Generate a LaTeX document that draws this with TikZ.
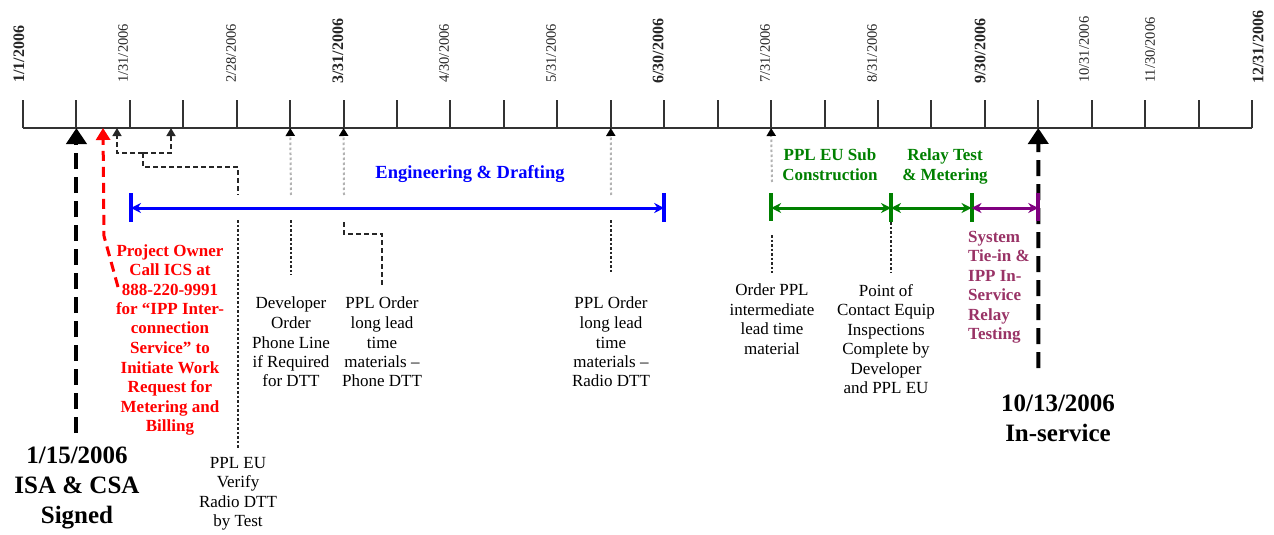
\documentclass[tikz,border=0pt]{standalone}
\usepackage{fontspec}
\setmainfont{Liberation Serif}
\usetikzlibrary{arrows.meta}
\definecolor{axisgray}{RGB}{51,51,51}
\definecolor{ppgreen}{RGB}{0,128,0}
\definecolor{pppurple}{RGB}{128,0,128}
\definecolor{ppplum}{RGB}{153,51,102}
\begin{document}
\begin{tikzpicture}[x=1pt,y=-1pt,
  axisline/.style={draw=axisgray,line width=2pt},
  datelbl/.style={rotate=90,anchor=west,inner sep=0pt,text=black!85,font=\fontsize{14.5}{14.5}\selectfont},
  datebold/.style={datelbl,font=\fontsize{16}{16}\selectfont\bfseries},
  note/.style={align=center,inner sep=0pt,anchor=north,font=\fontsize{17}{19.5}\selectfont},
  boldnote/.style={note,font=\fontsize{17}{19.5}\selectfont\bfseries},
  milestone/.style={align=center,inner sep=0pt,anchor=north,font=\fontsize{25}{30}\selectfont\bfseries},
  bigarr/.style={line width=4pt,dash pattern=on 16pt off 8pt,-{Triangle[width=20pt,length=16pt]}},
  redarr/.style={red,line width=3pt,dash pattern=on 10pt off 6pt,-{Triangle[width=14pt,length=12pt]}},
  gdot/.style={draw=gray!60,line width=2pt,dash pattern=on 2.5pt off 2.5pt,-{Triangle[width=9pt,length=8pt,color=black]}},
  kdot/.style={draw=black!85,line width=2pt,dash pattern=on 2.5pt off 2pt},
  kdash/.style={draw=black!85,line width=1.5pt,dash pattern=on 5pt off 3pt},
  kdasharr/.style={kdash,-{Triangle[width=9pt,length=8pt]}},
  bar/.style={line width=3pt,{Stealth[length=10pt,width=10pt]}-{Stealth[length=10pt,width=10pt]}},
  bartick/.style={line width=4pt}
]
\useasboundingbox (0,0) rectangle (1274,535);

% axis
\draw[axisline] (23,128) -- (1252,128);
\foreach \k in {0,...,23} {
  \coordinate (t\k) at ({23+53.435*\k},128);
  \draw[axisline] ({23+53.435*\k},100) -- (t\k);
}

% date labels
\node[datebold] (d1)  at (19,83)   {1/1/2006};
\node[datelbl]  (d2)  at (123,83)  {1/31/2006};
\node[datelbl]  (d3)  at (231,83)  {2/28/2006};
\node[datebold] (d4)  at (338,84)  {3/31/2006};
\node[datelbl]  (d5)  at (444,83)  {4/30/2006};
\node[datelbl]  (d6)  at (551,83)  {5/31/2006};
\node[datebold] (d7)  at (658,84)  {6/30/2006};
\node[datelbl]  (d8)  at (765,83)  {7/31/2006};
\node[datelbl]  (d9)  at (872,83)  {8/31/2006};
\node[datebold] (d10) at (980,84)  {9/30/2006};
\node[datelbl]  (d11) at (1084,83) {10/31/2006};
\node[datelbl]  (d12) at (1150,83) {11/30/2006};
\node[datebold] (d13) at (1258,84) {12/31/2006};

% milestone 1
\node[milestone] (isa) at (77,447) {1/15/2006\\ISA \& CSA\\Signed};
\draw[bigarr,shorten <=14pt] (isa.north -| t1) -- (t1);

% milestone 2
\node[milestone] (insvc) at (1058,395) {10/13/2006\\In-service};
\coordinate (e2) at (1038.3,368);
\draw[bigarr] (e2) -- (t19);

% red request
\node[boldnote,text=red] (req) at (170,244) {Project Owner\\Call ICS at\\888-220-9991\\for “IPP Inter-\\connection\\Service” to\\Initiate Work\\Request for\\Metering and\\Billing};
\coordinate (rs) at (118,287);
\coordinate (rb) at (104,236);
\coordinate (ra) at (103,128);
\draw[redarr] (rs) -- (rb) -- (ra);

% small bracket arrows
\coordinate (sa1) at (117,128);
\coordinate (sa2) at (171,128);
\coordinate (bm) at (143,153);
\coordinate (bs) at (143,167);
\coordinate (vt) at (238,195);
\coordinate (vb) at (238,220);
\draw[kdasharr] (bm) -| (sa1);
\draw[kdasharr] (bm) -| (sa2);
\draw[kdash] (bm) -- (bs) -| (vt);
\node[note] (verify) at (238,457) {PPL EU\\Verify\\Radio DTT\\by Test};
\draw[kdot,shorten >=9pt] (vb) -- (verify.north);

% developer phone line
\node[note] (dev) at (291,297) {Developer\\Order\\Phone Line\\if Required\\for DTT};
\coordinate (p1u) at (291,195);
\coordinate (p1l) at (291,220);
\draw[gdot] (p1u) -- (t5);
\draw[kdot,shorten >=22pt] (p1l) -- (dev.north);

% PPL order phone DTT
\node[note] (ordph) at (382,297) {PPL Order\\long lead\\time\\materials –\\Phone DTT};
\coordinate (p2u) at (344,195);
\coordinate (p2l) at (344,222);
\coordinate (p2b) at (344,234);
\draw[gdot] (p2u) -- (t6);
\draw[kdash,shorten >=12pt] (p2l) -- (p2b) -| (ordph.north);

% PPL order radio DTT
\node[note] (ordrd) at (611,297) {PPL Order\\long lead\\time\\materials –\\Radio DTT};
\coordinate (p3u) at (611,195);
\coordinate (p3l) at (611,220);
\draw[gdot] (p3u) -- (t11);
\draw[kdot,shorten >=24pt] (p3l) -- (ordrd.north);

% order PPL intermediate
\node[note] (inter) at (772,284) {Order PPL\\intermediate\\lead time\\material};
\coordinate (p4u) at (772,182);
\coordinate (p4l) at (772,235);
\draw[gdot] (p4u) -- (t14);
\draw[kdot,shorten >=11pt] (p4l) -- (inter.north);

% point of contact
\node[note] (poc) at (886,284) {Point of\\Contact Equip\\Inspections\\Complete by\\Developer\\and PPL EU};
\coordinate (p5l) at (891,222);
\draw[kdot,shorten >=11pt] (p5l) -- (poc.north -| p5l);

% engineering bar
\coordinate (b1) at (131,208);
\coordinate (b2) at (664.2,208);
\draw[blue,bartick] (131,193) -- (131,222);
\draw[blue,bartick] (664.2,193) -- (664.2,222);
\draw[blue,bar] (b1) -- (b2);
\node[inner sep=0pt,anchor=base,text=blue,font=\fontsize{18.5}{20}\selectfont\bfseries] (eng) at (470,178) {Engineering \& Drafting};

% green bars
\coordinate (g1) at (771.1,208);
\coordinate (g2) at (891,208);
\coordinate (g3) at (971.5,208);
\coordinate (g4) at (1038.3,208);
\draw[ppgreen,bartick] (771.1,193) -- (771.1,221);
\draw[ppgreen,bartick] (891,193) -- (891,222);
\draw[ppgreen,bartick] (971.5,193) -- (971.5,222);
\draw[ppgreen,bar] (g1) -- (g2);
\draw[ppgreen,bar] (g2) -- (g3);
\node[boldnote,text=ppgreen] (sub) at (830,149) {PPL EU Sub\\Construction};
\node[boldnote,text=ppgreen] (relay) at (945,149) {Relay Test\\\& Metering};

% purple bar
\draw[pppurple,bartick] (1038.3,193) -- (1038.3,221);
\draw[pppurple,bar] (g3) -- (g4);
\node[boldnote,align=left,anchor=north west,text=ppplum] (sys) at (968,231) {System\\Tie-in \&\\IPP In-\\Service\\Relay\\Testing};
\end{tikzpicture}
\end{document}
